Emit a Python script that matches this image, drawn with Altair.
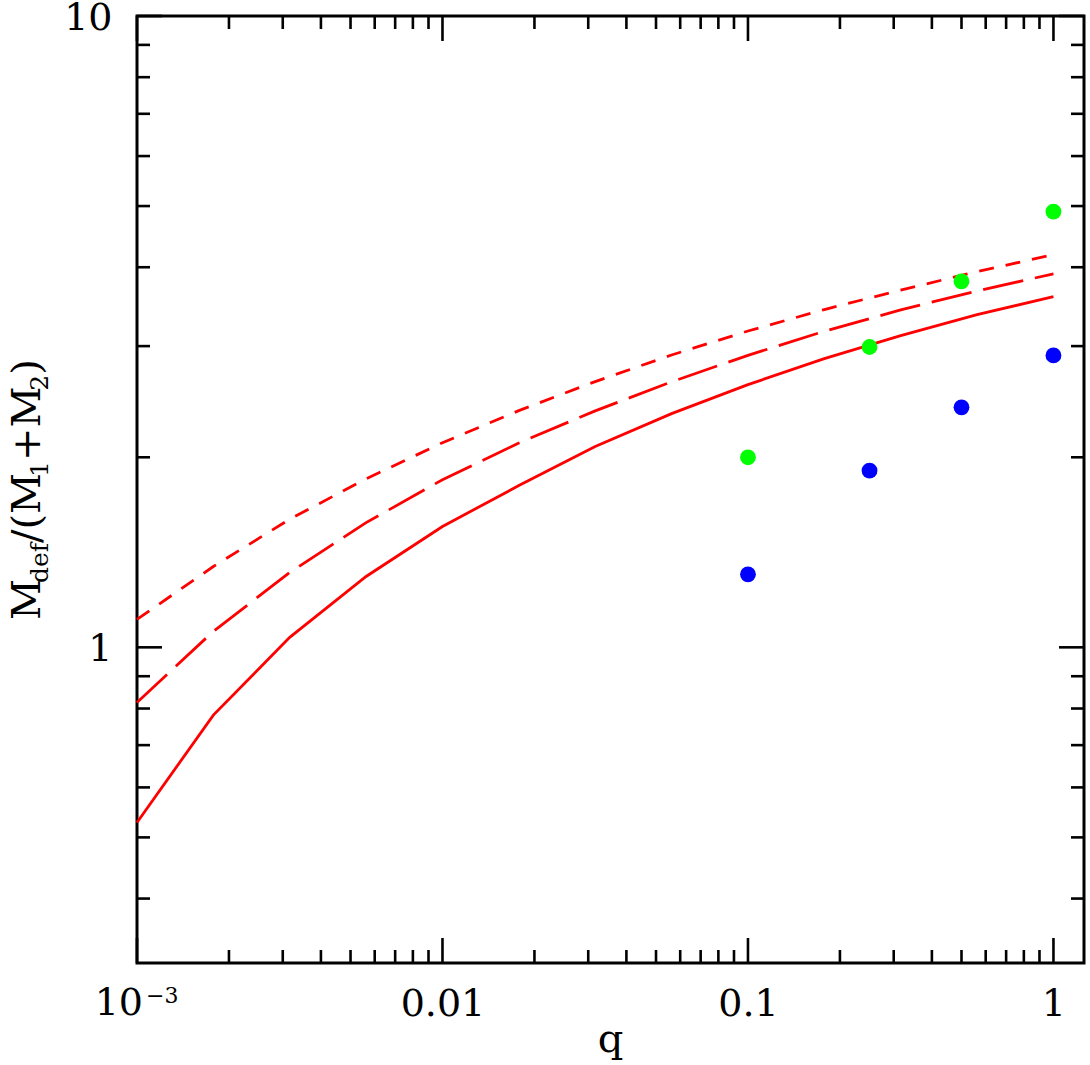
import math
import altair as alt
import pandas as pd

# ---------------- data ----------------
Q_GRID = [0.001, 0.001778, 0.003162, 0.005623, 0.01, 0.01778, 0.03162, 0.05623,
          0.1, 0.1778, 0.3162, 0.5623, 1.0]
SOLID = [0.528, 0.781, 1.037, 1.295, 1.554, 1.804, 2.080, 2.345, 2.607, 2.866, 3.117, 3.365, 3.593]
LONG_DASH = [0.818, 1.060, 1.314, 1.576, 1.843, 2.107, 2.369, 2.634, 2.901, 3.167, 3.424, 3.668, 3.905]
SHORT_DASH = [1.107, 1.343, 1.596, 1.849, 2.109, 2.371, 2.636, 2.904, 3.170, 3.428, 3.681, 3.936, 4.188]

Q_POINTS = [0.1, 0.25, 0.5, 1.0]
GREEN = [2.00, 2.99, 3.80, 4.90]
BLUE = [1.305, 1.905, 2.40, 2.90]

X_TICKS_MAJOR = [0.001, 0.01, 0.1, 1.0]
X_TICK_LABELS = ["", "0.01", "0.1", "1"]   # first label (10^-3) drawn below as base + exponent
X_FIRST_BASE = "10"
X_FIRST_EXP = "\u22123"
X_TICKS_MINOR = [m * d for d in (0.001, 0.01, 0.1) for m in range(2, 10)]
Y_TICKS_MAJOR = [1.0, 10.0]
Y_TICK_LABELS = ["1", "10"]
Y_TICKS_MINOR = [0.4, 0.5, 0.6, 0.7, 0.8, 0.9, 2, 3, 4, 5, 6, 7, 8, 9]

X_DOMAIN = [0.001, 1.2589]
Y_DOMAIN = [0.31623, 10.0]

# ---------------- layout ----------------
W = 947
H = 947
FONT = "DejaVu Serif"
LABEL_SIZE = 38
MAJ = 25
MIN = 13

xscale = alt.Scale(type="log", domain=X_DOMAIN, nice=False)
yscale = alt.Scale(type="log", domain=Y_DOMAIN, nice=False)


def label_expr(vals, labels):
    expr = f"'{labels[-1]}'"
    for i in range(len(vals) - 2, -1, -1):
        thr = math.sqrt(vals[i] * vals[i + 1])
        expr = f"(datum.value < {thr:.6g} ? '{labels[i]}' : {expr})"
    return expr


x_axis = alt.Axis(values=X_TICKS_MAJOR, labelExpr=label_expr(X_TICKS_MAJOR, X_TICK_LABELS),
                  ticks=False, tickSize=0, domain=False, grid=False, title=None,
                  labelFlush=False, labelPadding=22, labelFont=FONT, labelFontSize=LABEL_SIZE,
                  labelColor="black", labelOverlap=False)
y_axis = alt.Axis(values=Y_TICKS_MAJOR, labelExpr=label_expr(Y_TICKS_MAJOR, Y_TICK_LABELS),
                  ticks=False, tickSize=0, domain=False, grid=False, title=None,
                  labelFlush=False, labelPadding=25, labelOffset=2, labelFont=FONT,
                  labelFontSize=LABEL_SIZE, labelColor="black", labelOverlap=False)

curves = pd.DataFrame({"q": Q_GRID, "solid": SOLID, "long": LONG_DASH, "short": SHORT_DASH})


def line_layer(col, dash=None):
    kw = dict(color="#ff0000", strokeWidth=2.8)
    if dash:
        kw["strokeDash"] = dash
    return alt.Chart(curves).mark_line(**kw).encode(
        x=alt.X("q:Q", scale=xscale, axis=x_axis),
        y=alt.Y(f"{col}:Q", scale=yscale, axis=y_axis),
    )


solid = line_layer("solid")
longd = line_layer("long", dash=[41, 12])
shortd = line_layer("short", dash=[15, 12])

pts = pd.DataFrame({"q": Q_POINTS * 2, "m": GREEN + BLUE,
                    "grp": ["green"] * len(GREEN) + ["blue"] * len(BLUE)})
points = alt.Chart(pts).mark_circle(size=250, opacity=1).encode(
    x=alt.X("q:Q", scale=xscale, axis=x_axis),
    y=alt.Y("m:Q", scale=yscale, axis=y_axis),
    color=alt.Color("grp:N", scale=alt.Scale(domain=["green", "blue"], range=["#00ff00", "#0000ff"]),
                    legend=None),
)


def yticks(vals, length, side):
    df = pd.DataFrame({"v": vals})
    x0, x1 = (0, length) if side == "left" else (W - length, W)
    return alt.Chart(df).mark_rule(color="black", strokeWidth=2.6).encode(
        y=alt.Y("v:Q", scale=yscale, axis=y_axis), x=alt.value(x0), x2=alt.value(x1))


def xticks(vals, length, side):
    df = pd.DataFrame({"v": vals})
    y0, y1 = (H - length, H) if side == "bottom" else (0, length)
    return alt.Chart(df).mark_rule(color="black", strokeWidth=2.6).encode(
        x=alt.X("v:Q", scale=xscale, axis=x_axis), y=alt.value(y0), y2=alt.value(y1))


tick_layers = [
    yticks(Y_TICKS_MAJOR, MAJ, "left"), yticks(Y_TICKS_MINOR, MIN, "left"),
    yticks(Y_TICKS_MAJOR, MAJ, "right"), yticks(Y_TICKS_MINOR, MIN, "right"),
    xticks(X_TICKS_MAJOR, MAJ, "bottom"), xticks(X_TICKS_MINOR, MIN, "bottom"),
    xticks(X_TICKS_MAJOR, MAJ, "top"), xticks(X_TICKS_MINOR, MIN, "top"),
]

# first x label: "10" with superscript "-3"
first = pd.DataFrame({"v": [X_TICKS_MAJOR[0]]})
first_base = alt.Chart(first).mark_text(font=FONT, fontSize=LABEL_SIZE, color="black",
                                        align="right", baseline="alphabetic", dx=6).encode(
    x=alt.X("v:Q", scale=xscale, axis=x_axis), y=alt.value(999), text=alt.value(X_FIRST_BASE))
first_exp = alt.Chart(first).mark_text(font=FONT, fontSize=22, color="black",
                                       align="left", baseline="alphabetic", dx=9).encode(
    x=alt.X("v:Q", scale=xscale, axis=x_axis), y=alt.value(987), text=alt.value(X_FIRST_EXP))

one = pd.DataFrame({"a": [0]})

# x title
x_title = alt.Chart(one).mark_text(font=FONT, fontSize=40, color="black", align="center",
                                   baseline="alphabetic").encode(
    x=alt.value(W / 2), y=alt.value(1036), text=alt.value("q"))

# y title, built from pieces (main / subscript)
F_MAIN = 40
F_SUB = 25
EM = {"M": 0.92, "d": 0.64, "e": 0.59, "f": 0.37, "/": 0.34, "(": 0.39, ")": 0.39,
      "+": 0.84, "1": 0.64, "2": 0.64}
PIECES = [("M", False), ("def", True), ("/(M", False), ("1", True), ("+M", False), ("2", True), (")", False)]


def piece_width(txt, sub):
    return sum(EM[c] for c in txt) * (F_SUB if sub else F_MAIN)


total = sum(piece_width(t, s) for t, s in PIECES)
start = H / 2 + total / 2
title_layers = []
for txt, sub in PIECES:
    title_layers.append(
        alt.Chart(one).mark_text(font=FONT, fontSize=F_SUB if sub else F_MAIN, color="black",
                                 align="left", baseline="alphabetic", angle=270).encode(
            x=alt.value(-89 if sub else -97), y=alt.value(start), text=alt.value(txt)))
    start -= piece_width(txt, sub)

chart = alt.layer(solid, longd, shortd, points, *tick_layers, first_base, first_exp,
                  x_title, *title_layers).properties(
    width=W, height=H,
    background="white",
    padding={"left": 137, "top": 16, "right": 6, "bottom": 102},
    autosize=alt.AutoSizeParams(type="none"),
).configure_view(stroke="black", strokeWidth=3)

chart.save("out.html", embed_options={"renderer": "svg", "actions": False})
